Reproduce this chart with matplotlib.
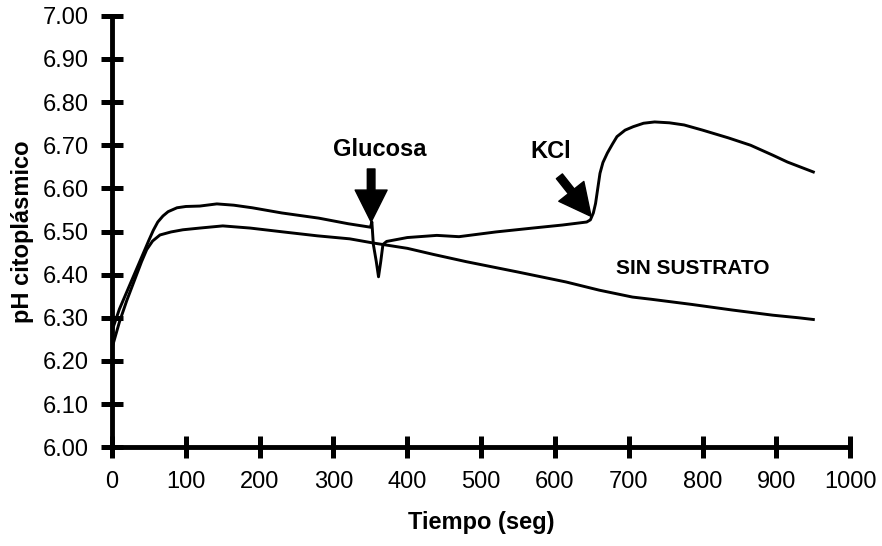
import matplotlib
matplotlib.use("Agg")
import matplotlib.pyplot as plt

plt.rcParams['font.family'] = ['Liberation Sans', 'DejaVu Sans']

# ---- data ----
t_glu = [0, 10, 20, 30, 40, 50, 56, 62, 69, 76, 88, 100, 119, 142, 165, 190, 230, 280, 320, 350,
         352, 354, 358, 361, 364, 367, 372, 400, 440, 470, 520, 570, 610, 643,
         648, 652, 655, 658, 661, 665, 671, 678, 684, 695, 706, 720, 735, 755, 775,
         800, 835, 865, 895, 915, 950]
ph_glu = [6.27, 6.32, 6.36, 6.40, 6.44, 6.48, 6.503, 6.522, 6.536, 6.546, 6.555, 6.558, 6.559, 6.564,
          6.561, 6.555, 6.543, 6.531, 6.518, 6.51,
          6.522, 6.47, 6.43, 6.395, 6.43, 6.47, 6.477, 6.486, 6.491, 6.488, 6.499, 6.508, 6.515, 6.522,
          6.527, 6.543, 6.565, 6.60, 6.635, 6.66, 6.682, 6.703, 6.72, 6.735, 6.743, 6.751, 6.754,
          6.752, 6.747, 6.735, 6.717, 6.70, 6.677, 6.661, 6.638]

t_sin = [0, 10, 20, 30, 40, 47, 55, 65, 80, 96, 119, 150, 187, 232, 278, 322, 355, 400, 435,
         480, 550, 615, 660, 705, 730, 785, 840, 895, 930, 950]
ph_sin = [6.23, 6.29, 6.34, 6.385, 6.43, 6.458, 6.478, 6.492, 6.499, 6.504, 6.508, 6.513, 6.508,
          6.499, 6.49, 6.483, 6.473, 6.461, 6.447, 6.43, 6.406, 6.383, 6.364, 6.348, 6.343,
          6.331, 6.318, 6.306, 6.30, 6.296]

x_ticks = [0, 100, 200, 300, 400, 500, 600, 700, 800, 900, 1000]
y_ticks = [6.00, 6.10, 6.20, 6.30, 6.40, 6.50, 6.60, 6.70, 6.80, 6.90, 7.00]
y_tick_labels = ["6.00", "6.10", "6.20", "6.30", "6.40", "6.50", "6.60", "6.70", "6.80", "6.90", "7.00"]

x_title = "Tiempo (seg)"
y_title = "pH citoplásmico"
label_glu = "Glucosa"
label_kcl = "KCl"
label_sin = "SIN SUSTRATO"

# ---- figure ----
fig = plt.figure(figsize=(8.82, 5.46), dpi=100)
ax = fig.add_axes([0.127, 0.181, 0.837, 0.790])

ax.plot(t_glu, ph_glu, color='black', lw=2.1, solid_joinstyle='round')
ax.plot(t_sin, ph_sin, color='black', lw=2.1, solid_joinstyle='round')

ax.set_xlim(0, 1000)
ax.set_ylim(6.0, 7.0)
ax.set_xticks(x_ticks)
ax.set_xticklabels([str(v) for v in x_ticks])
ax.set_yticks(y_ticks)
ax.set_yticklabels(y_tick_labels)

for s in ['top', 'right']:
    ax.spines[s].set_visible(False)
for s in ['left', 'bottom']:
    ax.spines[s].set_linewidth(3.5)
    ax.spines[s].set_capstyle('round')

ax.tick_params(axis='both', direction='inout', length=16, width=3.6, labelsize=17,
               color='black')
ax.tick_params(axis='y', pad=9)
ax.tick_params(axis='x', pad=9)
for tl in ax.get_xticklines() + ax.get_yticklines():
    tl.set_solid_capstyle('round')

ax.set_xlabel(x_title, fontsize=17, fontweight='bold', labelpad=13)
ax.set_ylabel(y_title, fontsize=17, fontweight='bold', labelpad=6)

# annotations
arrow_kw = dict(facecolor='black', edgecolor='black', width=5.5, headwidth=23, headlength=23, shrink=0)
ax.annotate('', xy=(351, 6.522), xytext=(351, 6.645), arrowprops=arrow_kw)
ax.text(362, 6.689, label_glu, fontsize=17, fontweight='bold', ha='center', va='center')

ax.annotate('', xy=(649, 6.535), xytext=(606, 6.628), arrowprops=arrow_kw)
ax.text(594, 6.686, label_kcl, fontsize=17, fontweight='bold', ha='center', va='center')

ax.text(786, 6.415, label_sin, fontsize=15, fontweight='bold', ha='center', va='center')

fig.savefig("out.png", dpi=100)
